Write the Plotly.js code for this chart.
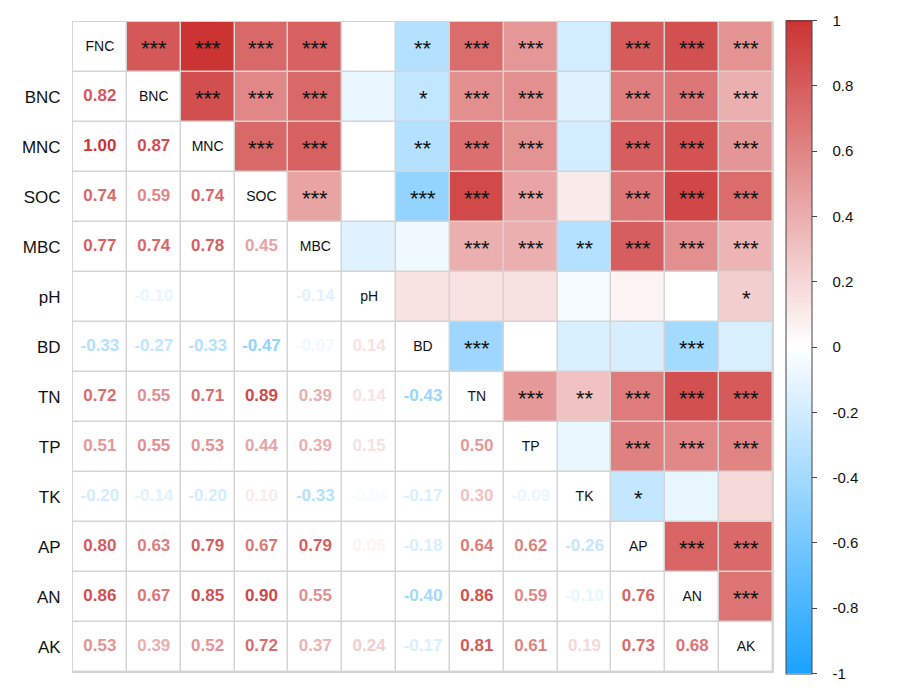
<!DOCTYPE html>
<html>
<head>
<meta charset="utf-8">
<script src="https://cdn.plot.ly/plotly-3.0.1.min.js"></script>
<style>html,body{margin:0;padding:0;background:#fff;}#chart{width:901px;height:695px;}</style>
</head>
<body>
<div id="chart"></div>
<script>
// Variable names
var labels = ['FNC','BNC','MNC','SOC','MBC','pH','BD','TN','TP','TK','AP','AN','AK'];

// Lower-triangle correlation coefficients (row i, columns 0..i-1)
var corrRows = [
  [],
  [0.82],
  [1.00, 0.87],
  [0.74, 0.59, 0.74],
  [0.77, 0.74, 0.78, 0.45],
  [0.00, -0.10, 0.00, 0.00, -0.14],
  [-0.33, -0.27, -0.33, -0.47, -0.07, 0.14],
  [0.72, 0.55, 0.71, 0.89, 0.39, 0.14, -0.43],
  [0.51, 0.55, 0.53, 0.44, 0.39, 0.15, 0.00, 0.50],
  [-0.20, -0.14, -0.20, 0.10, -0.33, -0.04, -0.17, 0.30, -0.09],
  [0.80, 0.63, 0.79, 0.67, 0.79, 0.06, -0.18, 0.64, 0.62, -0.26],
  [0.86, 0.67, 0.85, 0.90, 0.55, 0.00, -0.40, 0.86, 0.59, -0.10, 0.76],
  [0.53, 0.39, 0.52, 0.72, 0.37, 0.24, -0.17, 0.81, 0.61, 0.19, 0.73, 0.68]
];

// Significance marks (same shape as corrRows)
var sigRows = [
  [],
  ['***'],
  ['***','***'],
  ['***','***','***'],
  ['***','***','***','***'],
  ['','','','',''],
  ['**','*','**','***','',''],
  ['***','***','***','***','***','','***'],
  ['***','***','***','***','***','','','***'],
  ['','','','','**','','','**',''],
  ['***','***','***','***','***','','','***','***','*'],
  ['***','***','***','***','***','','***','***','***','','***'],
  ['***','***','***','***','***','*','','***','***','','***','***']
];

// Colour bar ticks
var cbTickVals = [1, 0.8, 0.6, 0.4, 0.2, 0, -0.2, -0.4, -0.6, -0.8, -1];
var cbTickText = ['1','0.8','0.6','0.4','0.2','0','-0.2','-0.4','-0.6','-0.8','-1'];

var negColor = [26, 163, 255];
var midColor = [255, 255, 255];
var posColor = [204, 51, 51];
var colorscale = [[0, 'rgb(26,163,255)'], [0.5, 'rgb(255,255,255)'], [1, 'rgb(204,51,51)']];

function colorFor(v) {
  var t = Math.min(1, Math.abs(v));
  var end = v < 0 ? negColor : posColor;
  var c = midColor.map(function (m, k) { return Math.round(m + (end[k] - m) * t); });
  return 'rgb(' + c.join(',') + ')';
}

var n = labels.length;
var idx = labels.map(function (_, i) { return i; });

// Upper triangle coloured cells, lower + diagonal white cells
var zUpper = [], zWhite = [];
for (var y = 0; y < n; y++) {
  var ru = [], rw = [];
  for (var x = 0; x < n; x++) {
    if (x > y) { ru.push(corrRows[x][y]); rw.push(null); }
    else { ru.push(null); rw.push(0); }
  }
  zUpper.push(ru); zWhite.push(rw);
}

// Lower triangle numbers
var numX = [], numY = [], numT = [], numC = [];
for (var i = 1; i < n; i++) {
  for (var j = 0; j < i; j++) {
    numX.push(j); numY.push(i);
    numT.push(corrRows[i][j].toFixed(2));
    numC.push(colorFor(corrRows[i][j]));
  }
}

// Star annotations in upper triangle
var annotations = [];
for (var i2 = 1; i2 < n; i2++) {
  for (var j2 = 0; j2 < i2; j2++) {
    var s = sigRows[i2][j2];
    if (s) {
      annotations.push({
        x: i2, y: j2, xref: 'x', yref: 'y', text: s, showarrow: false,
        yshift: -1,
        font: {family: 'Liberation Sans, Arial, sans-serif', size: 22, color: '#111'}
      });
    }
  }
}

var font = 'Liberation Sans, Arial, Helvetica, sans-serif';
var pad = '\u00a0\u00a0\u00a0';

var traces = [
  {
    type: 'heatmap', x: idx, y: idx, z: zWhite,
    colorscale: [[0, '#ffffff'], [1, '#ffffff']], zmin: 0, zmax: 1,
    showscale: false, xgap: 1.5, ygap: 1.5, hoverinfo: 'skip'
  },
  {
    type: 'heatmap', x: idx, y: idx, z: zUpper,
    colorscale: colorscale, zmin: -1, zmax: 1,
    xgap: 1.5, ygap: 1.5, hoverongaps: false,
    colorbar: {
      x: 1.0186, xanchor: 'left', xpad: 0, xref: 'paper',
      y: 0.5, yanchor: 'middle', ypad: 0, len: 1.004, lenmode: 'fraction',
      thickness: 26, outlinecolor: '#444', outlinewidth: 1,
      ticks: 'outside', ticklen: 5, tickcolor: '#444',
      tickvals: cbTickVals, ticktext: cbTickText.map(function (t) { return pad + t; }),
      tickfont: {family: font, size: 15, color: '#111'}
    }
  },
  {
    type: 'scatter', mode: 'text', x: numX, y: numY, text: numT,
    textposition: 'middle center',
    textfont: {family: font, size: 17, color: numC, weight: 'bold'},
    hoverinfo: 'skip', showlegend: false
  },
  {
    type: 'scatter', mode: 'text', x: idx, y: idx, text: labels,
    textposition: 'middle center',
    textfont: {family: font, size: 14, color: '#111'},
    hoverinfo: 'skip', showlegend: false
  }
];

var layout = {
  width: 901, height: 695,
  margin: {l: 73, r: 128, t: 22, b: 23, pad: 0},
  paper_bgcolor: '#ffffff',
  plot_bgcolor: '#d4d4d4',
  showlegend: false,
  xaxis: {range: [-0.5, n - 0.5], showticklabels: false, showgrid: false, zeroline: false,
          showline: true, mirror: true, linecolor: '#d4d4d4', linewidth: 1, ticks: ''},
  yaxis: {range: [n - 0.5, -0.5], tickvals: idx.slice(1), ticktext: labels.slice(1),
          tickfont: {family: font, size: 17, color: '#111'}, ticks: '', ticklabelstandoff: 8,
          showgrid: false, zeroline: false, showline: true, mirror: true,
          linecolor: '#d4d4d4', linewidth: 1},
  annotations: annotations,
  font: {family: font}
};

Plotly.newPlot('chart', traces, layout, {displayModeBar: false, staticPlot: true});
</script>
</body>
</html>
